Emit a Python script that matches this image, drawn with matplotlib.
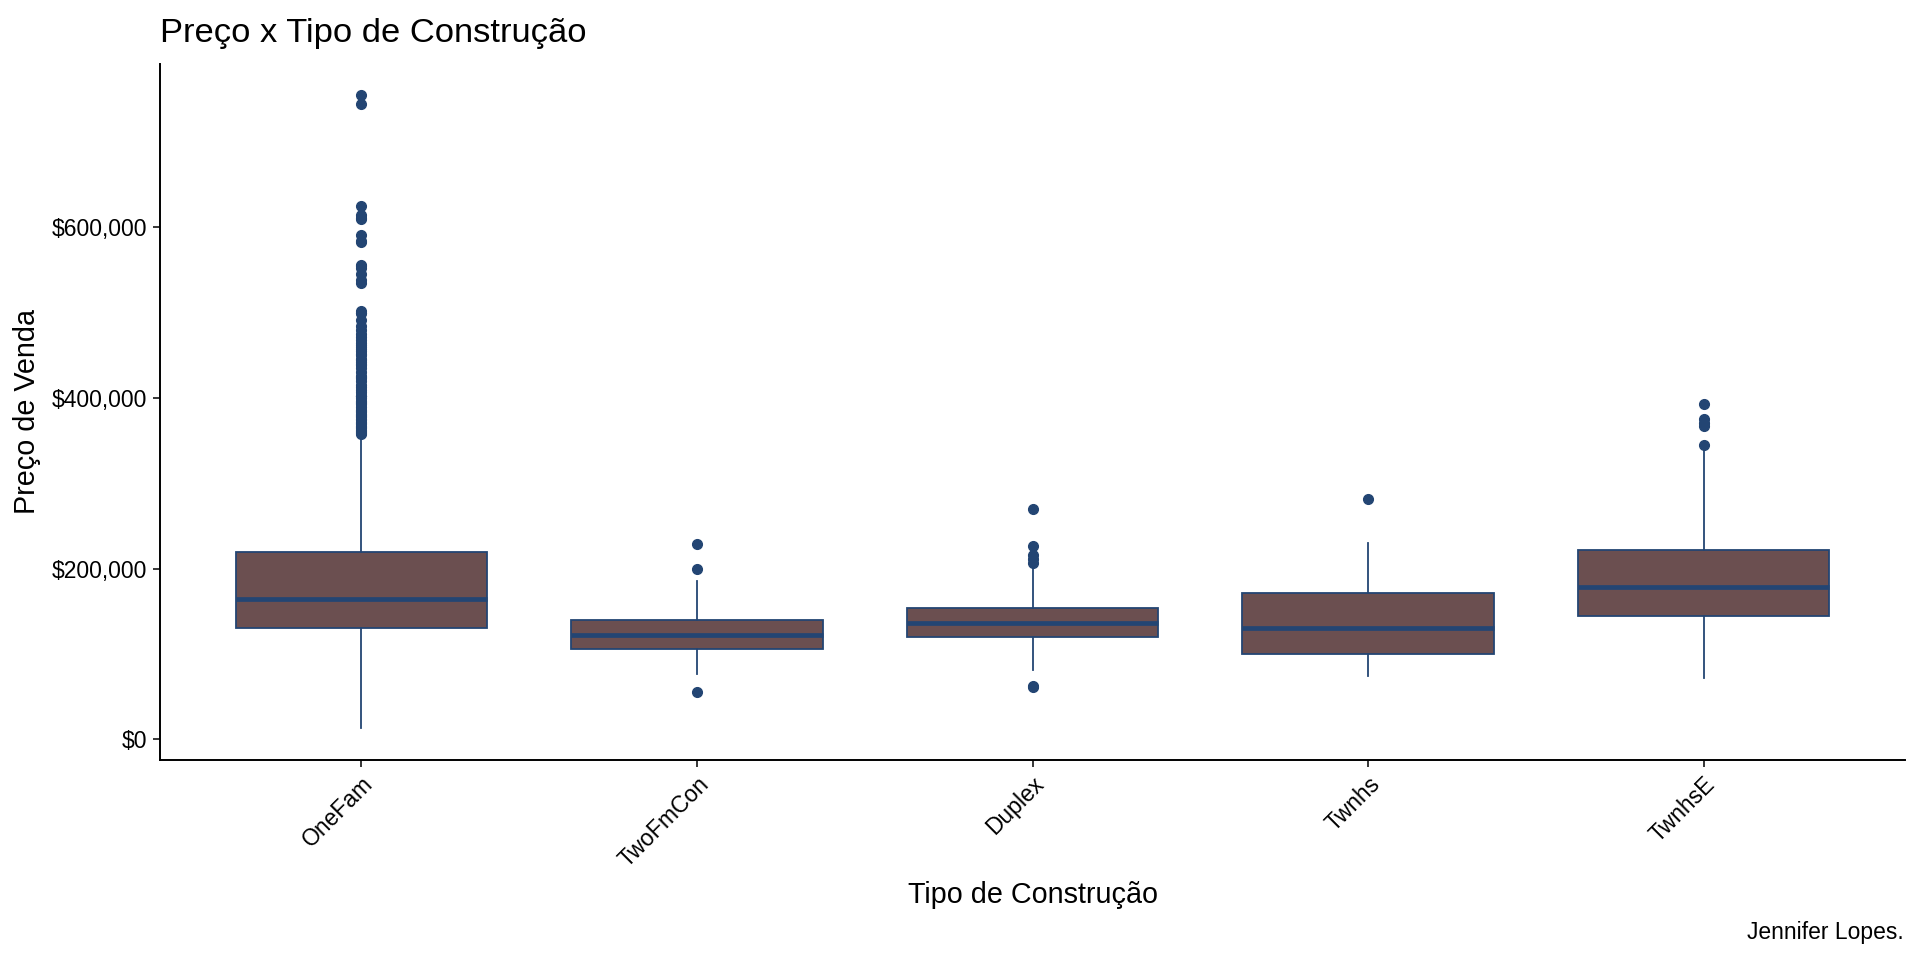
import matplotlib
matplotlib.use('Agg')
import matplotlib.pyplot as plt
from matplotlib.ticker import FuncFormatter

plt.rcParams['font.family'] = ['Liberation Sans', 'DejaVu Sans']

# valores (SalePrice por BldgType)
categorias = ['OneFam', 'TwoFmCon', 'Duplex', 'Twnhs', 'TwnhsE']
q1 = [130000, 106000, 120000, 100500, 145000]
mediana = [165000, 122000, 136300, 130500, 179000]
q3 = [220000, 140000, 154000, 171000, 222000]
bigode_min = [12789, 77000, 81500, 73800, 72000]
bigode_max = [355000, 186000, 204500, 230000, 338000]

out_onefam = [755000, 745000, 625000, 615000, 611657, 610000, 591587, 584500,
              582933, 556581, 555000, 552000, 545224, 538000, 535000, 501837,
              500067, 500000, 492000, 485000, 480000, 475000, 472000, 468000,
              465000, 462000, 460000, 457347, 455000, 451950, 450000, 446261,
              445000, 442000, 440000, 438780, 435000, 430000, 426000, 424870,
              423000, 420000, 415298, 412500, 410000, 407000, 403000, 402861,
              402000, 400000, 397000, 395192, 394617, 392500, 390000, 386250,
              385000, 383970, 381000, 380000, 378500, 377426, 375000, 374000,
              372500, 370967, 369900, 367294, 366000, 365000, 362500, 361919,
              360000, 359100, 358000]
out_twofmcon = [228950, 200000, 55000]
out_duplex = [269500, 226000, 216000, 211000, 207000, 62500, 61500]
out_twnhs = [282000]
out_twnhse = [392500, 375000, 371000, 367000, 345500]
outliers = [out_onefam, out_twofmcon, out_duplex, out_twnhs, out_twnhse]

cor_caixa = '#6b4f50'
cor_linha = '#234573'

stats = []
for i in range(len(categorias)):
    stats.append({'label': categorias[i], 'q1': q1[i], 'med': mediana[i],
                  'q3': q3[i], 'whislo': bigode_min[i], 'whishi': bigode_max[i],
                  'fliers': outliers[i]})

fig = plt.figure(figsize=(19.2, 9.6), dpi=100)
ax = fig.add_axes([160/1920, 1-760/960, (1905-160)/1920, (760-63.7)/960])

ax.bxp(stats, positions=range(1, 6), widths=0.75, patch_artist=True,
       showcaps=False,
       boxprops=dict(facecolor=cor_caixa, edgecolor=cor_linha, linewidth=1.3),
       medianprops=dict(color=cor_linha, linewidth=3.4, solid_capstyle='butt'),
       whiskerprops=dict(color=cor_linha, linewidth=1.3),
       flierprops=dict(marker='o', markersize=7, markerfacecolor=cor_linha,
                       markeredgecolor=cor_linha, linestyle='none'))

ax.set_xlim(0.4, 5.6)
ax.set_ylim(-24300, 792000)
ax.set_yticks([0, 200000, 400000, 600000])
ax.yaxis.set_major_formatter(FuncFormatter(lambda v, p: '${:,.0f}'.format(v)))
ax.set_xticks(range(1, 6))
ax.set_xticklabels(categorias, rotation=45, ha='right', va='top',
                   rotation_mode='anchor')

for s in ['top', 'right']:
    ax.spines[s].set_visible(False)
for s in ['left', 'bottom']:
    ax.spines[s].set_linewidth(1.4)
ax.tick_params(axis='both', length=5, width=1.1, labelsize=16.5,
               colors='black', pad=4)

fig.text(160/1920, 1-41.6/960, 'Preço x Tipo de Construção', fontsize=24.8,
         ha='left', va='baseline')
fig.text(27/1920, 1-412/960, 'Preço de Venda', fontsize=20.7, rotation=90,
         ha='center', va='center')
fig.text((160+1905)/2/1920, 1-895/960, 'Tipo de Construção', fontsize=20.7,
         ha='center', va='center')
fig.text(1904/1920, 1-933/960, 'Jennifer Lopes.', fontsize=16.5,
         ha='right', va='center')

fig.savefig('out.png', dpi=100, facecolor='white')
